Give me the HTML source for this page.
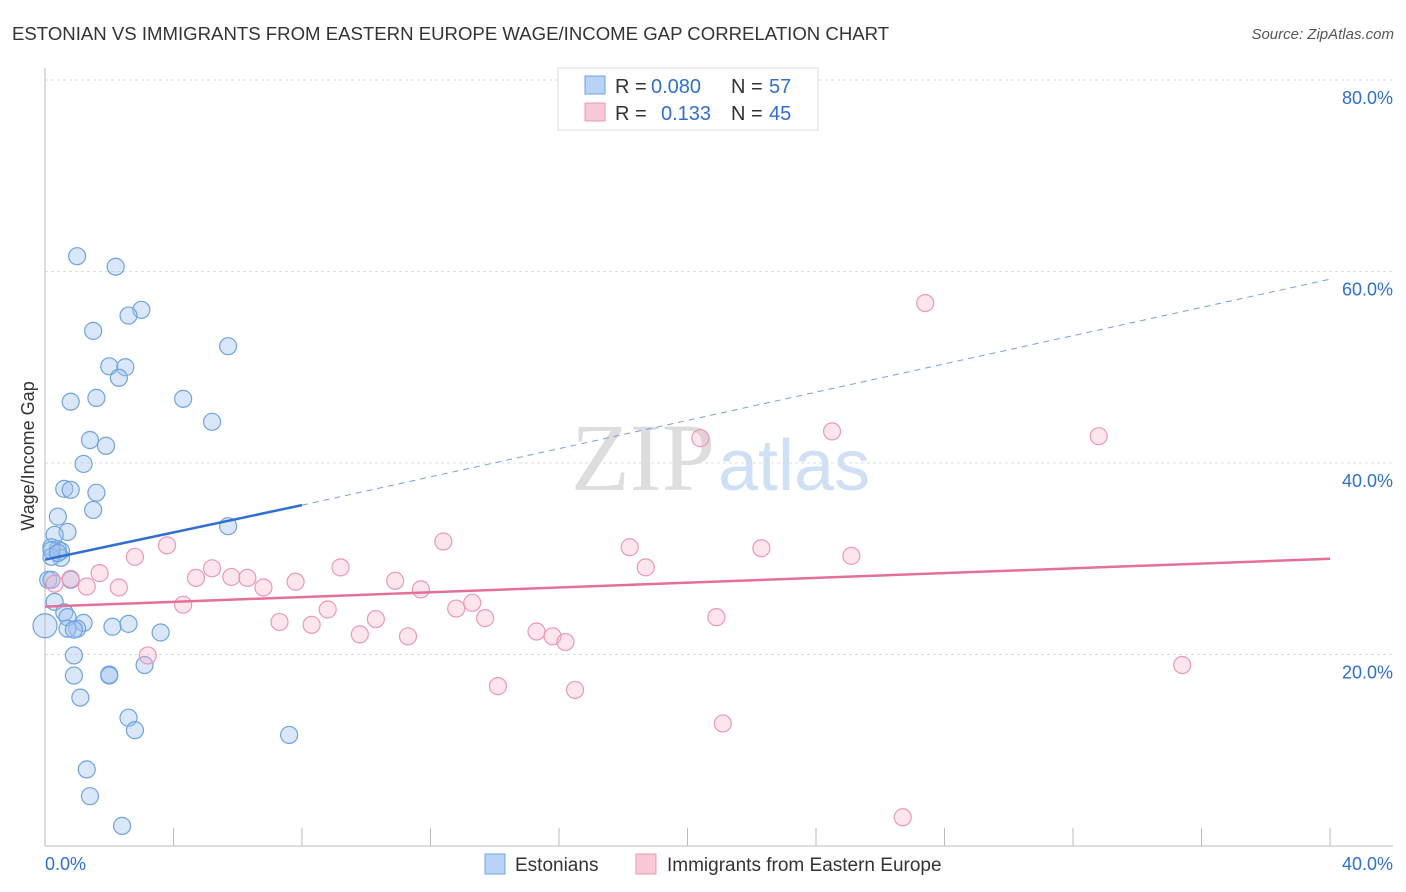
<!DOCTYPE html>
<html><head><meta charset="utf-8"><style>
body{margin:0;background:#fff;font-family:"Liberation Sans",sans-serif;}
svg{display:block}
</style></head><body>
<svg id="chart" width="1406" height="892" xmlns="http://www.w3.org/2000/svg">
<text x="12" y="40" font-size="18.6" fill="#333">ESTONIAN VS IMMIGRANTS FROM EASTERN EUROPE WAGE/INCOME GAP CORRELATION CHART</text>
<text x="1394" y="39" font-size="15" fill="#555" font-style="italic" text-anchor="end">Source: ZipAtlas.com</text>
<text x="715" y="490" font-size="96" fill="#ddd" text-anchor="end" font-family="Liberation Serif">ZIP</text>
<text x="718" y="490" font-size="72" fill="#cfe0f5">atlas</text>
<g id="grid"></g>
<g id="axes"></g>
<g id="marks"></g>
<text x="34" y="456" font-size="18" fill="#333" text-anchor="middle" transform="rotate(-90 34 456)">Wage/Income Gap</text>
<g>
<rect x="558" y="68" width="260" height="62" fill="#fff" stroke="#ddd"/>
<rect x="585" y="76" width="20" height="18" fill="#b8d3f5" stroke="#6fa3e0"/>
<text x="615" y="93" font-size="20" fill="#333">R =</text>
<text x="651" y="93" font-size="20" fill="#2f6fd0">0.080</text>
<text x="731" y="93" font-size="20" fill="#333">N =</text>
<text x="769" y="93" font-size="20" fill="#2f6fd0">57</text>
<rect x="585" y="103" width="20" height="18" fill="#f8c8d6" stroke="#e89ab5"/>
<text x="615" y="120" font-size="20" fill="#333">R =</text>
<text x="661" y="120" font-size="20" fill="#2f6fd0">0.133</text>
<text x="731" y="120" font-size="20" fill="#333">N =</text>
<text x="769" y="120" font-size="20" fill="#2f6fd0">45</text>
</g>
<g>
<rect x="485" y="854" width="20" height="20" fill="#b8d3f5" stroke="#6fa3e0"/>
<text x="515" y="871" font-size="19" fill="#333">Estonians</text>
<rect x="636" y="854" width="20" height="20" fill="#f8c8d6" stroke="#e89ab5"/>
<text x="667" y="871" font-size="19" fill="#333">Immigrants from Eastern Europe</text>
</g>
</svg>
<script>
const yTicks=[20,40,60,80];
const xTickLabels=["0.0%","40.0%"];
const blueX=[1.0,2.2,3.0,2.6,1.5,5.7,2.0,2.5,2.3,0.8,1.6,4.3,5.2,1.4,1.9,1.2,0.6,0.8,1.6,1.5,0.4,0.7,0.3,5.7,0.2,0.4,0.5,0.5,0.2,0.1,0.8,0.3,0.6,0.7,1.2,1.0,0.7,0.9,2.1,2.6,3.6,0.0,0.9,0.9,2.0,2.0,3.1,1.1,2.6,2.8,7.6,1.3,1.4,2.4,0.2,0.4,0.2];
const blueY=[61.6,60.5,56.0,55.4,53.8,52.2,50.1,50.0,48.9,46.4,46.8,46.7,44.3,42.4,41.8,39.9,37.3,37.2,36.9,35.1,34.4,32.8,32.5,33.4,31.2,31.0,30.8,30.1,30.2,27.8,27.8,25.5,24.4,23.9,23.3,22.7,22.7,22.6,22.9,23.2,22.3,23.0,19.9,17.8,17.9,17.8,18.9,15.5,13.4,12.1,11.6,8.0,5.2,2.1,30.9,30.6,27.8];
const pinkX=[27.4,20.4,24.5,32.8,3.8,12.4,18.2,22.3,25.1,2.8,1.7,5.2,9.2,18.7,4.7,5.8,6.3,6.8,7.8,10.9,11.7,2.3,1.3,0.8,0.3,4.3,8.8,13.3,12.8,13.7,10.3,7.3,8.3,9.8,11.3,15.3,15.8,16.2,20.9,3.2,14.1,16.5,35.4,21.1,26.7];
const pinkY=[56.7,42.6,43.3,42.8,31.4,31.8,31.2,31.1,30.3,30.2,28.5,29.0,29.1,29.1,28.0,28.1,28.0,27.0,27.6,27.7,26.8,27.0,27.1,27.9,27.4,25.2,24.7,25.4,24.8,23.8,23.7,23.4,23.1,22.1,21.9,22.4,21.9,21.3,23.9,19.9,16.7,16.3,18.9,12.8,3.0];
const blueTrend=[0,29.9,8,35.6,40,59.2];
const pinkTrend=[0,25.0,40,30.0];
const NS="http://www.w3.org/2000/svg";
const xs=v=>45+v*32.125, ys=v=>846-v*9.575;
function mk(p,t,a){const e=document.createElementNS(NS,t);for(const k in a)e.setAttribute(k,a[k]);p.appendChild(e);return e;}
const grid=document.getElementById('grid'),axes=document.getElementById('axes'),marks=document.getElementById('marks');
yTicks.forEach(t=>{
 const l=mk(grid,'line',{x1:45,x2:1393,y1:ys(t),y2:ys(t),stroke:'#ddd','stroke-dasharray':'3,3'});
 
 
 const tx=mk(grid,'text',{x:1393,y:ys(t)+24,'font-size':18,fill:'#2f6fd0','text-anchor':'end'});
 tx.textContent=t.toFixed(1)+'%';
 
 
});
mk(axes,'line',{x1:45,x2:45,y1:68,y2:846,stroke:'#bbb'});
mk(axes,'line',{x1:45,x2:1393,y1:846,y2:846,stroke:'#bbb'});
for(let i=0;i<=10;i++){mk(axes,'line',{x1:xs(i*4),x2:xs(i*4),y1:828,y2:846,stroke:'#bbb'});}
[[0,'start',45],[40,'end',1393]].forEach((d,i)=>{
 const t=mk(axes,'text',{x:d[2],y:870,'font-size':18,fill:'#2f6fd0','text-anchor':d[1]});
 t.textContent=xTickLabels[i];
 
 
});
blueX.forEach((v,i)=>{
 const c=mk(marks,'circle',{cx:xs(v),cy:ys(blueY[i]),r:v===0?12:8.5,fill:'rgba(160,195,240,0.4)',stroke:'#6fa3e0','stroke-width':1.2});
 
 
});
pinkX.forEach((v,i)=>{
 const c=mk(marks,'circle',{cx:xs(v),cy:ys(pinkY[i]),r:8.5,fill:'rgba(245,180,200,0.35)',stroke:'#e89ab5','stroke-width':1.2});
 
 
});
const bt=mk(marks,'line',{x1:xs(blueTrend[0]),y1:ys(blueTrend[1]),x2:xs(blueTrend[2]),y2:ys(blueTrend[3]),stroke:'#2f6fd0','stroke-width':2.5});


const bd=mk(marks,'line',{x1:xs(blueTrend[2]),y1:ys(blueTrend[3]),x2:xs(blueTrend[4]),y2:ys(blueTrend[5]),stroke:'#6fa3e0','stroke-width':1,'stroke-dasharray':'6,5'});


const pt=mk(marks,'line',{x1:xs(pinkTrend[0]),y1:ys(pinkTrend[1]),x2:xs(pinkTrend[2]),y2:ys(pinkTrend[3]),stroke:'#e46f9a','stroke-width':2.5});


</script>
</body></html>
